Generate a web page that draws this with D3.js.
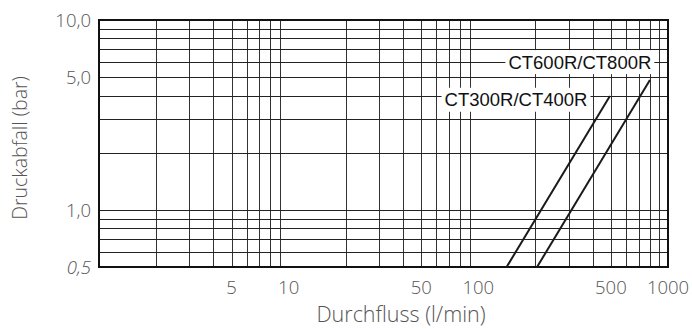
<!DOCTYPE html>
<html>
<head>
<meta charset="utf-8">
<script src="https://cdn.jsdelivr.net/npm/d3@7"></script>
<style>
  body { margin: 0; background: #fff; }
  text { font-family: "Liberation Sans", Arial, sans-serif; }
  .axistext { font-family: "Open Sans", "Liberation Sans", sans-serif; font-weight: 300; fill: #555; }
</style>
</head>
<body>
<div id="chart"></div>
<script>
// data
var xTicks = [5, 10, 50, 100, 500, 1000];
var xTickLabels = ["5", "10", "50", "100", "500", "1000"];
var yTicks = [10, 5, 1, 0.5];
var yTickLabels = ["10,0", "5,0", "1,0", "0,5"];

var seriesNames = ["CT300R/CT400R", "CT600R/CT800R"];
var ct300Flow = [141, 494];
var ct300Drop = [0.5, 3.98];
var ct600Flow = [204, 803];
var ct600Drop = [0.5, 4.83];
// where the series labels sit (flow, drop)
var labelFlow = [158, 343];
var labelDrop = [3.8, 6.0];

var width = 692,
	height = 329,
	margin = {
		left: 99,
		right: 24,
		top: 20,
		bottom: 62
	};

var svg = d3.select('#chart').append('svg')
	.attr('width', width)
	.attr('height', height);

var x = d3.scaleLog()
	.domain([1, 1000])
	.range([margin.left, width - margin.right]);

var y = d3.scaleLog()
	.domain([0.5, 10])
	.range([height - margin.bottom, margin.top]);

// grid lines: every 1..9 of each decade
var xGrid = [];
[1, 10, 100].forEach(function(d) {
	for (var i = 2; i <= 9; i++) xGrid.push(d * i);
});
var yGrid = [0.6, 0.7, 0.8, 0.9, 1, 2, 3, 4, 5, 6, 7, 8, 9];

var grid = svg.append('g').attr('class', 'grid');

grid.selectAll('.vline').data(xGrid)
	.enter().append('line')
	.attr('class', 'vline')
	.attr('x1', function(d) { return Math.round(x(d)) + 0.5; })
	.attr('x2', function(d) { return Math.round(x(d)) + 0.5; })
	.attr('y1', y(10))
	.attr('y2', y(0.5))
	.style('stroke', '#333')
	.style('stroke-width', 1);

grid.selectAll('.hline').data(yGrid)
	.enter().append('line')
	.attr('class', 'hline')
	.attr('x1', x(1))
	.attr('x2', x(1000))
	.attr('y1', function(d) { return Math.round(y(d)) + 0.5; })
	.attr('y2', function(d) { return Math.round(y(d)) + 0.5; })
	.style('stroke', '#222')
	.style('stroke-width', 1);

// frame
svg.append('rect')
	.attr('x', x(1))
	.attr('y', y(10))
	.attr('width', x(1000) - x(1))
	.attr('height', y(0.5) - y(10))
	.style('fill', 'none')
	.style('stroke', '#111')
	.style('stroke-width', 2);

// curves
var line = d3.line()
	.x(function(d) { return x(d[0]); })
	.y(function(d) { return y(d[1]); });

var curves = [d3.zip(ct300Flow, ct300Drop), d3.zip(ct600Flow, ct600Drop)];

svg.selectAll('.curve').data(curves)
	.enter().append('path')
	.attr('class', 'curve')
	.attr('d', line)
	.style('fill', 'none')
	.style('stroke', '#1a1a1a')
	.style('stroke-width', 2);

// labels with white boxes
var labels = svg.selectAll('.serieslabel').data(seriesNames)
	.enter().append('g')
	.attr('class', 'serieslabel')
	.attr('transform', function(d, i) {
		return 'translate(' + x(labelFlow[i]) + ',' + y(labelDrop[i]) + ')';
	});

labels.append('text')
	.attr('text-anchor', 'middle')
	.attr('dy', '0.36em')
	.style('font-size', '18.5px')
	.style('fill', '#111')
	.text(function(d) { return d; });

labels.each(function() {
	var g = d3.select(this);
	var bb = g.select('text').node().getBBox();
	g.insert('rect', 'text')
		.attr('x', bb.x - 3)
		.attr('y', -12)
		.attr('width', bb.width + 6)
		.attr('height', 24)
		.style('fill', '#fff');
});

// x tick labels
svg.selectAll('.xlabel').data(xTicks)
	.enter().append('text')
	.attr('class', 'xlabel axistext')
	.attr('x', function(d) { return x(d); })
	.attr('y', y(0.5) + 27)
	.attr('text-anchor', 'middle')
	.style('font-size', '18.5px')
	.text(function(d, i) { return xTickLabels[i]; });

// y tick labels
svg.selectAll('.ylabel').data(yTicks)
	.enter().append('text')
	.attr('class', 'ylabel axistext')
	.attr('x', x(1) - 8)
	.attr('y', function(d) { return y(d); })
	.attr('dy', '0.36em')
	.attr('text-anchor', 'end')
	.style('font-size', '18.5px')
	.style('font-style', function(d) { return d === 0.5 ? 'italic' : 'normal'; })
	.text(function(d, i) { return yTickLabels[i]; });

// axis titles
svg.append('text')
	.attr('class', 'axistext')
	.attr('x', 401)
	.attr('y', 322)
	.attr('text-anchor', 'middle')
	.style('font-size', '21.5px')
	.text('Durchfluss (l/min)');

svg.append('text')
	.attr('class', 'axistext')
	.attr('transform', 'translate(27,148) rotate(-90)')
	.attr('text-anchor', 'middle')
	.style('font-size', '19.5px')
	.text('Druckabfall (bar)');
</script>
</body>
</html>
